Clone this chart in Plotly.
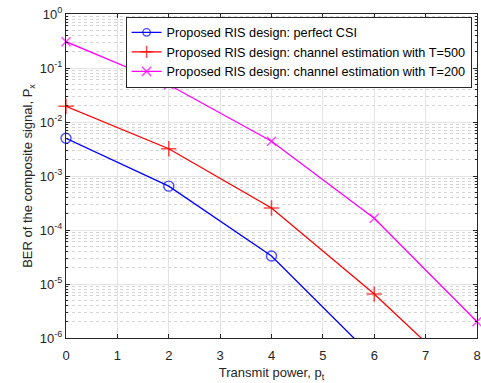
import plotly.graph_objects as go

# Transmit power (x) and BER of the composite signal for each design
power = [0, 2, 4, 6]
ber_perfect = [5.0e-3, 6.5e-4, 3.3e-5, 4.2e-7]

power_t500 = [0, 2, 4, 6, 8]
ber_t500 = [1.95e-2, 3.2e-3, 2.55e-4, 6.5e-6, 1.07e-7]

power_t200 = [0, 2, 4, 6, 8]
ber_t200 = [0.307, 4.9e-2, 4.4e-3, 1.65e-4, 2.0e-6]

names = [
    "Proposed RIS design: perfect CSI",
    "Proposed RIS design: channel estimation with T=500",
    "Proposed RIS design: channel estimation with T=200",
]

x_ticks = list(range(0, 9))
y_decades = list(range(-6, 1))
Y_FLOOR = 10.0 ** y_decades[0]

FONT = "Liberation Sans, Arial, sans-serif"
AXIS = "#262626"
GRID = "#e3e3e3"
MINOR = "#d4d4d4"


def marker_sizes(values, size):
    # markers are drawn unclipped, so hide the ones that fall below the axis floor
    return [size if v >= Y_FLOOR else 0 for v in values]


fig = go.Figure()
fig.add_trace(go.Scatter(
    x=power, y=ber_perfect, name=names[0], mode="lines+markers", cliponaxis=False,
    line=dict(color="#0000ff", width=1.3),
    marker=dict(symbol="circle-open", size=marker_sizes(ber_perfect, 10),
                color="#0000ff", line=dict(width=1.4)),
))
fig.add_trace(go.Scatter(
    x=power_t500, y=ber_t500, name=names[1], mode="lines+markers", cliponaxis=False,
    line=dict(color="#ff0000", width=1.3),
    marker=dict(symbol="cross-thin", size=marker_sizes(ber_t500, 11),
                color="#ff0000", line=dict(width=1.5, color="#ff0000")),
))
fig.add_trace(go.Scatter(
    x=power_t200, y=ber_t200, name=names[2], mode="lines+markers", cliponaxis=False,
    line=dict(color="#ff00ff", width=1.3),
    marker=dict(symbol="x-thin", size=marker_sizes(ber_t200, 9),
                color="#ff00ff", line=dict(width=1.5, color="#ff00ff")),
))

minor_vals = [k * 10.0 ** d for d in y_decades[:-1] for k in range(2, 10)]

fig.update_layout(
    width=481, height=383,
    margin=dict(l=66, r=0, t=14, b=45),
    paper_bgcolor="white", plot_bgcolor="white",
    font=dict(family=FONT, size=13, color=AXIS),
    showlegend=True,
    legend=dict(
        x=0.145, y=0.992, xanchor="left", yanchor="top",
        bgcolor="white", bordercolor=AXIS, borderwidth=1,
        font=dict(size=12.7, color="#000000"),
        tracegroupgap=0, itemwidth=30,
    ),
    xaxis=dict(
        range=[0, 8], tickvals=x_ticks, ticktext=[str(v) for v in x_ticks],
        showgrid=True, gridcolor=GRID, gridwidth=1,
        showline=True, linecolor=AXIS, linewidth=1, mirror="ticks",
        ticks="inside", ticklen=4, tickcolor=AXIS,
        ticklabelstandoff=5, ticklabeloverflow="allow",
        tickfont=dict(size=13),
        zeroline=False,
        title=dict(text="Transmit power, p<sub>t</sub>", standoff=6, font=dict(size=13)),
    ),
    yaxis=dict(
        type="log", range=[-6, 0],
        tickvals=[10.0 ** d for d in y_decades],
        ticktext=["10<sup>%d</sup>" % d for d in y_decades],
        showgrid=True, gridcolor=GRID, gridwidth=1,
        showline=True, linecolor=AXIS, linewidth=1, mirror="ticks",
        ticks="inside", ticklen=4, tickcolor=AXIS,
        tickfont=dict(size=13),
        zeroline=False,
        minor=dict(tickvals=minor_vals, showgrid=True, gridcolor=MINOR,
                   griddash="dot", gridwidth=1, ticks="inside", ticklen=2,
                   tickcolor=AXIS),
        title=dict(text="BER of the composite signal, P<sub>x</sub>", standoff=4, font=dict(size=13)),
    ),
)

fig.write_html("out.html")
